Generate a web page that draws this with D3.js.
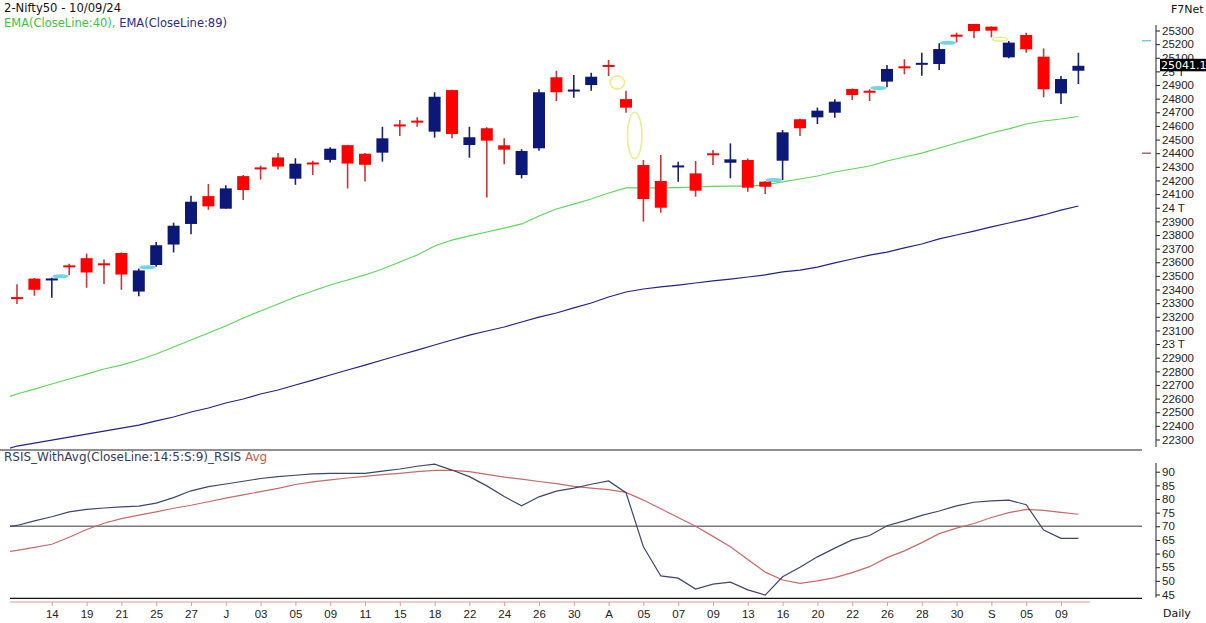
<!DOCTYPE html>
<html><head><meta charset="utf-8">
<script src="https://cdn.jsdelivr.net/npm/d3@7"></script>
<style>
body{margin:0;background:#fff;}
svg{display:block;}
text{font-family:"DejaVu Sans",Verdana,sans-serif;}
.ax text{font-family:"Liberation Sans",Arial,sans-serif;font-size:11.5px;fill:#222;}
</style></head><body>
<svg id="c" width="1206" height="623"></svg>
<script>
// ---- DATA ----
const dates = ["2024-06-12","2024-06-13","2024-06-14","2024-06-18","2024-06-19","2024-06-20","2024-06-21","2024-06-24","2024-06-25","2024-06-26","2024-06-27","2024-06-28",
"2024-07-01","2024-07-02","2024-07-03","2024-07-04","2024-07-05","2024-07-08","2024-07-09","2024-07-10","2024-07-11","2024-07-12","2024-07-15","2024-07-16","2024-07-18","2024-07-19","2024-07-22","2024-07-23","2024-07-24","2024-07-25","2024-07-26","2024-07-29","2024-07-30","2024-07-31",
"2024-08-01","2024-08-02","2024-08-05","2024-08-06","2024-08-07","2024-08-08","2024-08-09","2024-08-12","2024-08-13","2024-08-14","2024-08-16","2024-08-19","2024-08-20","2024-08-21","2024-08-22","2024-08-23","2024-08-26","2024-08-27","2024-08-28","2024-08-29","2024-08-30",
"2024-09-02","2024-09-03","2024-09-04","2024-09-05","2024-09-06","2024-09-09","2024-09-10"];
const open  = [23344,23480,23468,23575,23630,23590,23668,23385,23580,23730,23881,24085,23993,24232,24291,24369,24213,24329,24351,24459,24396,24404,24607,24635,24558,24863,24460,24583,24458,24240,24436,24957,24855,24900,25045,24797,24313,24196,24300,24252,24396,24330,24350,24191,24345,24649,24663,24697,24871,24858,24925,25033,25052,25054,25266,25348,25328,25103,25267,25108,24839,25005];
const high  = [23438,23485,23486,23590,23664,23620,23672,23555,23748,23890,24087,24174,24164,24240,24309,24401,24363,24344,24443,24461,24402,24594,24643,24663,24847,24866,24594,24590,24509,24430,24869,25005,24974,24990,25084,24858,24350,24387,24338,24343,24423,24472,24362,24195,24570,24652,24734,24795,24874,24869,25047,25089,25137,25206,25284,25348,25330,25223,25284,25169,24966,25137];
const low   = [23294,23354,23340,23505,23413,23440,23398,23350,23568,23672,23805,23985,23992,24056,24207,24281,24168,24240,24331,24141,24193,24338,24526,24594,24514,24510,24367,24075,24319,24215,24418,24783,24807,24858,24966,24697,23898,23964,24191,24081,24313,24216,24118,24101,24203,24526,24614,24660,24790,24783,24883,24979,24968,25010,25213,25243,25250,25096,25137,24810,24761,24908];
const close = [23330,23398,23480,23565,23525,23580,23510,23540,23725,23868,24044,24010,24142,24130,24286,24302,24323,24320,24433,24324,24315,24509,24600,24628,24814,24541,24517,24492,24426,24416,24847,24847,24864,24961,25035,24734,24064,24000,24306,24125,24388,24355,24147,24154,24553,24583,24712,24778,24827,24844,25018,25027,25059,25164,25258,25296,25299,25211,25162,24869,24944,25041.1];

// line series include the preceding session (2024-06-11), whose point sits just left of the plot edge
const lineDates = ["2024-06-11"].concat(dates);
const ema40 = [22590,22634,22670,22707,22744,22780,22817,22846,22883,22927,22978,23030,23081,23133,23191,23243,23294,23345,23389,23433,23470,23507,23551,23602,23653,23719,23763,23793,23822,23851,23881,23939,23991,24027,24064,24108,24145,24145,24145,24148,24152,24156,24159,24159,24167,24189,24211,24233,24262,24284,24306,24343,24372,24401,24438,24475,24511,24548,24578,24614,24636,24651,24669];
const ema89 = [22216,22252,22274,22296,22318,22340,22362,22384,22406,22436,22465,22502,22531,22568,22597,22634,22663,22700,22736,22773,22810,22846,22883,22920,22956,22993,23030,23066,23096,23125,23162,23198,23228,23265,23301,23345,23382,23404,23419,23433,23448,23463,23477,23492,23507,23529,23543,23565,23595,23624,23653,23675,23705,23734,23771,23800,23829,23859,23888,23917,23947,23983,24013];
const rsi    = [69.5,70.3,72,73.5,75.3,76.2,76.7,77.1,77.4,78.5,80.5,83,84.5,85.5,86.5,87.5,88.2,88.7,89.2,89.4,89.4,89.4,90.2,91,92,92.8,90.6,88.2,84.8,80.9,77.5,80.8,82.9,84,85.4,86.6,82.3,62.5,51.8,51,47,48.8,49.5,46.7,44.8,51.5,55,58.8,62,65,66.6,70.2,72,74,75.6,77.5,78.8,79.3,79.6,77.9,68.6,65.6,65.6];
const rsiAvg = [60.3,61.2,62.3,63.4,66,68.8,71.1,72.8,74.1,75.3,76.6,77.7,79,80.3,81.5,82.7,83.9,85.3,86.3,87,87.7,88.3,88.9,89.4,90,90.5,90.5,90,89,88,87.3,86.4,85.6,84.6,84,83.4,82.4,79.6,76.4,73.2,70,66.3,62.5,57.8,53.2,50.3,49.1,50,51.2,53,55.2,58.5,61,64,67.3,69.3,71,73.2,75,76.2,75.8,75.1,74.4];

// price gaps (index of the session after the gap)
const gapIndex = [3,8,35,36,44,50,54,57];
const gapLow   = [23490,23558,24870,24360,24198,24870,25207,25222];
const gapHigh  = [23505,23568,24966,24700,24210,24885,25215,25250];
const gapDir   = ["up","up","down","down","up","up","up","down"];

const priceTicks = [22300,22400,22500,22600,22700,22800,22900,23000,23100,23200,23300,23400,23500,23600,23700,23800,23900,24000,24100,24200,24300,24400,24500,24600,24700,24800,24900,25000,25100,25200,25300];
const rsiTicks = [45,50,55,60,65,70,75,80,85,90];
const rsiLevel = 70;
const xTickDates  = ["2024-06-14","2024-06-19","2024-06-21","2024-06-25","2024-06-27","2024-07-01","2024-07-03","2024-07-05","2024-07-09","2024-07-11","2024-07-15","2024-07-18","2024-07-22","2024-07-24","2024-07-26","2024-07-30","2024-08-01","2024-08-05","2024-08-07","2024-08-09","2024-08-13","2024-08-16","2024-08-20","2024-08-22","2024-08-26","2024-08-28","2024-08-30","2024-09-03","2024-09-05","2024-09-09"];
const xTickLabels = ["14","19","21","25","27","J","03","05","09","11","15","18","22","24","26","30","A","05","07","09","13","16","20","22","26","28","30","S","05","09"];
const refLevels = [25225, 24400];
const refColors = ["#5fc8d8", "#a05050"];

// ---- CHART ----
const svg = d3.select("#c");
const RED = "#ff0000", REDW = "#c33a3a", NAVY = "#0c1878", NAVYW = "#1c2468";
const x = d3.scalePoint().domain(lineDates).range([-0.4, 1078.4]);
const y = d3.scaleLinear().domain([22300, 25300]).range([439.5, 30.5]);
const yr = d3.scaleLinear().domain([45, 90]).range([594.5, 471.7]);

const defs = svg.append("defs");
defs.append("clipPath").attr("id","cp").append("rect").attr("x",10).attr("y",0).attr("width",1132).attr("height",449);
defs.append("clipPath").attr("id","cr").append("rect").attr("x",10).attr("y",451).attr("width",1132).attr("height",146);

// titles
svg.append("text").attr("x",4).attr("y",12).attr("font-size",11.6).attr("fill","#111").text("2-Nifty50 - 10/09/24");
const t2 = svg.append("text").attr("x",4).attr("y",27).attr("font-size",11.5);
t2.append("tspan").attr("fill","#3cc43c").text("EMA(CloseLine:40), ");
t2.append("tspan").attr("fill","#2a2a90").text("EMA(CloseLine:89)");
svg.append("text").attr("x",1171).attr("y",13).attr("font-size",11).attr("fill","#111").text("F7Net");

// price panel
const gp = svg.append("g").attr("clip-path","url(#cp)");
const mkLine = (arr, sc) => d3.line().x((d,i)=>x(lineDates[i])).y(d=>sc(d))(arr);
gp.append("path").attr("d",mkLine(ema89,y)).attr("fill","none").attr("stroke","#22228a").attr("stroke-width",1.2);
gp.append("path").attr("d",mkLine(ema40,y)).attr("fill","none").attr("stroke","#5ad85a").attr("stroke-width",1.2);

// gap markers
gapIndex.forEach((gi,k)=>{
  const cx = (x(lineDates[gi]) + x(lineDates[gi+1]))/2;
  const y1 = y(gapHigh[k]), y2 = y(gapLow[k]);
  const col = gapDir[k]==="up" ? "#72d6e2" : "#ecec8c";
  gp.append("ellipse").attr("cx",cx).attr("cy",(y1+y2)/2).attr("rx",7.2)
    .attr("ry",Math.max(1.2,(y2-y1)/2))
    .attr("fill", gapDir[k]==="up" ? col : "none").attr("stroke",col).attr("stroke-width",1.6);
});

const candles = dates.map((d,i)=>({d,o:open[i],h:high[i],l:low[i],c:close[i]}));
gp.selectAll("line.wick").data(candles).join("line").attr("class","wick")
  .attr("x1",d=>x(d.d)).attr("x2",d=>x(d.d)).attr("y1",d=>y(d.h)).attr("y2",d=>y(d.l))
  .attr("stroke",d=>d.c>=d.o?NAVYW:REDW).attr("stroke-width",1.6);
gp.selectAll("rect.body").data(candles).join("rect").attr("class","body")
  .attr("x",d=>x(d.d)-6).attr("width",12)
  .attr("y",d=>{const a=y(d.o),b=y(d.c);return Math.abs(a-b)<2?(a+b)/2-1:Math.min(a,b);})
  .attr("height",d=>Math.max(2,Math.abs(y(d.o)-y(d.c))))
  .attr("fill",d=>d.c>=d.o?NAVY:RED);

// reference level dashes
refLevels.forEach((v,k)=>{
  svg.append("line").attr("x1",1142).attr("x2",1151).attr("y1",y(v)).attr("y2",y(v)).attr("stroke",refColors[k]).attr("stroke-width",1.3);
});

// price axis
const pa = svg.append("g").attr("class","ax").attr("transform","translate(1156,0)")
  .call(d3.axisRight(y).tickValues(priceTicks).tickSize(4).tickPadding(2)
    .tickFormat(v => v%1000===0 ? (v/1000)+" T" : String(v)));
pa.select(".domain").remove();
pa.selectAll(".tick line").attr("stroke","#222");
svg.append("line").attr("x1",1156).attr("x2",1156).attr("y1",25).attr("y2",447).attr("stroke","#222");

// last close label
const lastY = y(close[close.length-1]);
svg.append("rect").attr("x",1160).attr("y",lastY-7).attr("width",46).attr("height",12.5).attr("fill","#000");
svg.append("text").attr("x",1161).attr("y",lastY+3.5).attr("font-size",11).attr("fill","#fff").text(d3.format(".1f")(close[close.length-1]));

// separators
svg.append("line").attr("x1",0).attr("x2",1142).attr("y1",450).attr("y2",450).attr("stroke","#222").attr("stroke-width",1.2);

// RSI panel
const rt = svg.append("text").attr("x",4).attr("y",461).attr("font-size",12);
rt.append("tspan").attr("fill","#333a60").text("RSIS_WithAvg(CloseLine:14:5:S:9)_RSIS ");
rt.append("tspan").attr("fill","#cc5a4a").text("Avg");

svg.append("line").attr("x1",10).attr("x2",1142).attr("y1",yr(rsiLevel)).attr("y2",yr(rsiLevel)).attr("stroke","#7a7a7a").attr("stroke-width",1.6);
const gr = svg.append("g").attr("clip-path","url(#cr)");
gr.append("path").attr("d",mkLine(rsiAvg,yr)).attr("fill","none").attr("stroke","#c86a6a").attr("stroke-width",1.2);
gr.append("path").attr("d",mkLine(rsi,yr)).attr("fill","none").attr("stroke","#3e4668").attr("stroke-width",1.2);
svg.append("line").attr("x1",10).attr("x2",1142).attr("y1",598.3).attr("y2",598.3).attr("stroke","#111").attr("stroke-width",1.2);

const ra = svg.append("g").attr("class","ax").attr("transform","translate(1156,0)")
  .call(d3.axisRight(yr).tickValues(rsiTicks).tickSize(4).tickPadding(2));
ra.select(".domain").remove();
ra.selectAll(".tick line").attr("stroke","#222");
svg.append("line").attr("x1",1156).attr("x2",1156).attr("y1",463).attr("y2",597.5).attr("stroke","#222");

// x axis
svg.append("line").attr("x1",10).attr("x2",1090).attr("y1",602).attr("y2",602).attr("stroke","#dc9a9a").attr("stroke-width",1.2);
const xa = svg.append("g").attr("class","ax").attr("transform","translate(0,602)")
  .call(d3.axisBottom(x).tickValues(xTickDates).tickSize(4).tickPadding(4)
    .tickFormat(d => xTickLabels[xTickDates.indexOf(d)]));
xa.select(".domain").remove();
xa.selectAll(".tick line").attr("stroke","#dc9a9a");
xa.selectAll(".tick text").attr("fill","#333");

svg.append("text").attr("x",1163).attr("y",617).attr("font-size",11).attr("fill","#111").text("Daily");
</script>
</body></html>
